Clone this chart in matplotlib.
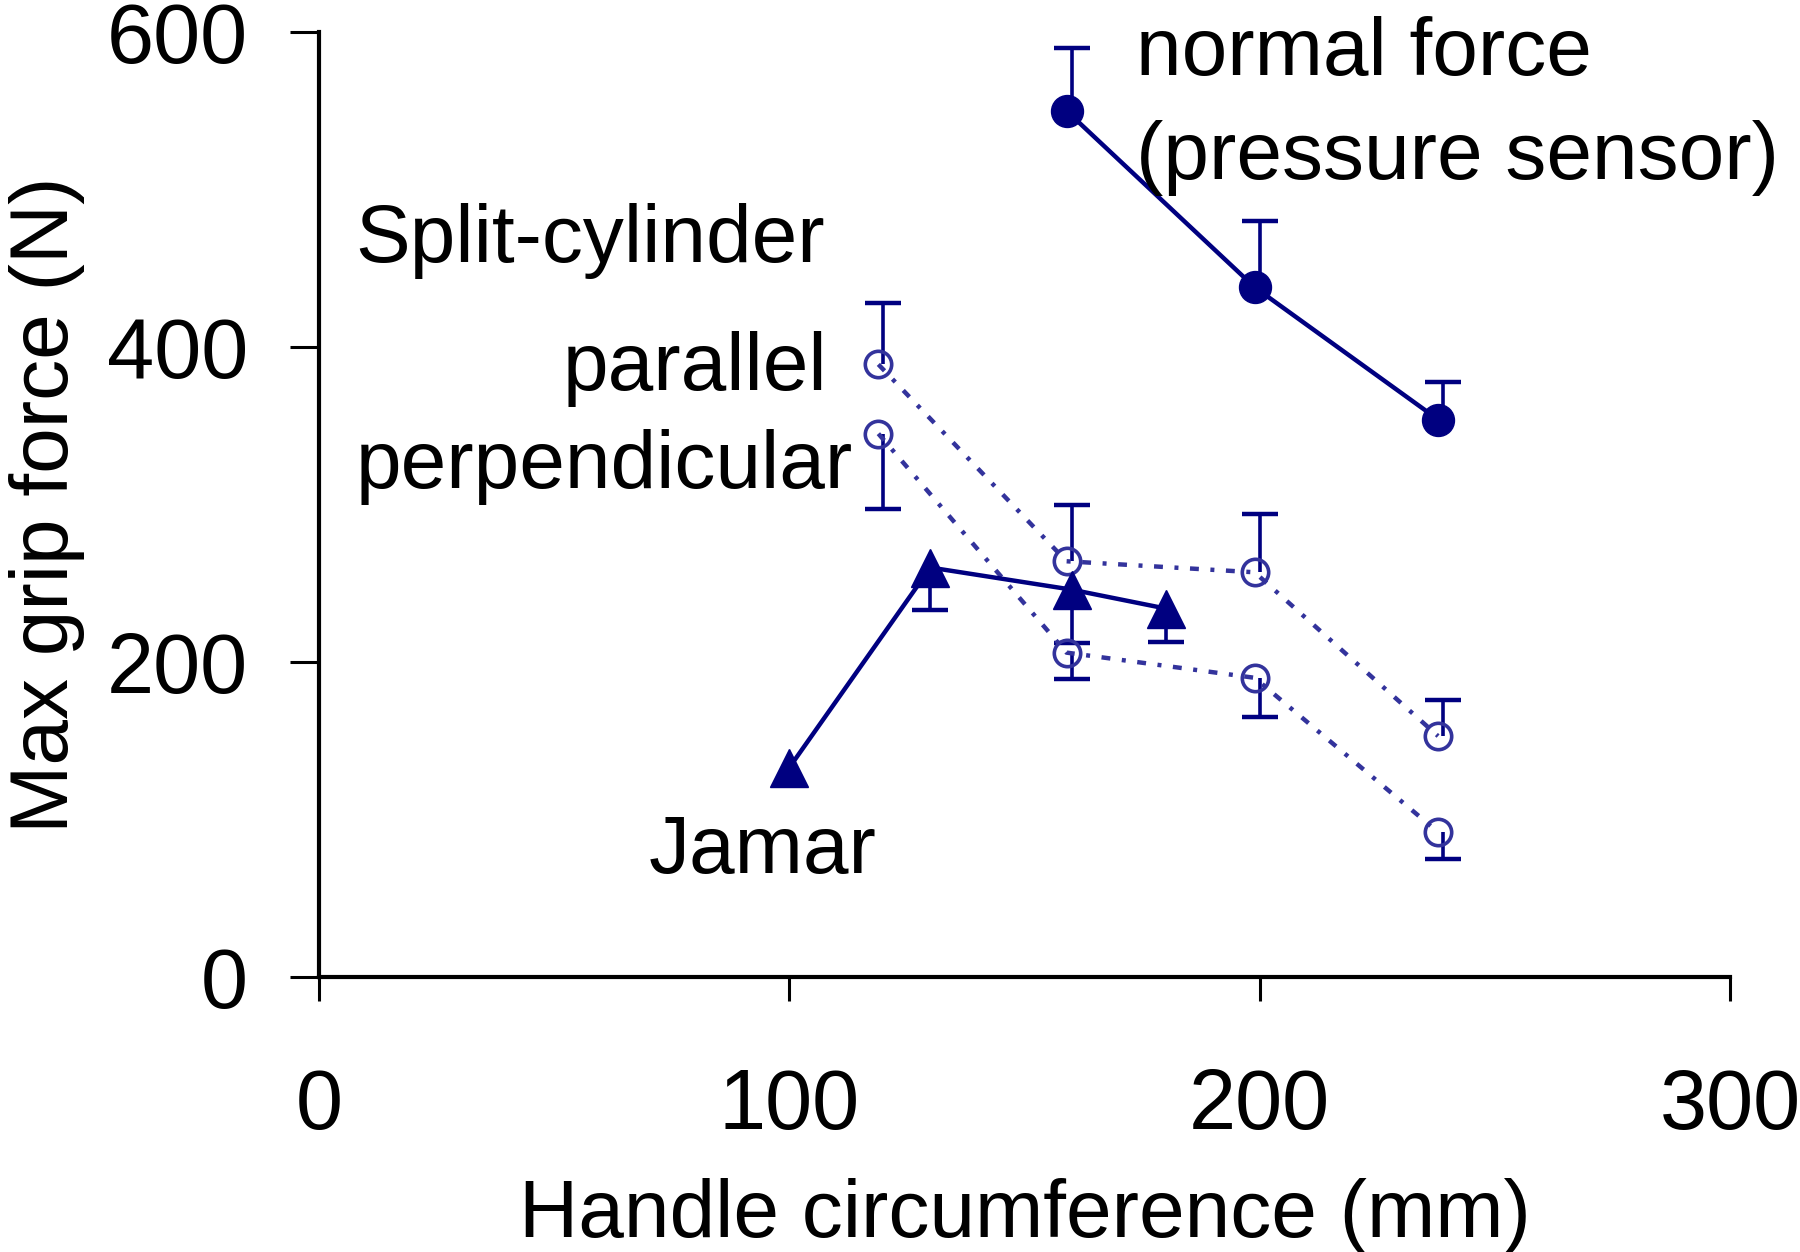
import matplotlib
matplotlib.use("Agg")
import matplotlib.pyplot as plt
from matplotlib.transforms import ScaledTranslation
import numpy as np

plt.rcParams['font.family'] = ['Liberation Sans', 'DejaVu Sans']

# Data
normal_x = [160, 200, 239]
normal_y = [550, 438, 354]
normal_err_up = [40, 42, 24]

parallel_x = [120, 160, 200, 239]
parallel_y = [389, 264, 257, 153]
parallel_err_up = [39, 36, 37, 23]

perp_x = [120, 160, 200, 239]
perp_y = [345, 206, 190, 92]
perp_err_down = [48, 17, 25, 17]

jamar_x = [100, 130, 160, 180]
jamar_y = [133, 260, 246, 234]
jamar_err_down = [0, 27, 34, 21]

xticks = [0, 100, 200, 300]
yticks = [0, 200, 400, 600]

navy = '#000080'
light = '#33339c'
FS = 59

fig = plt.figure(figsize=(18, 12.52), dpi=100)
ax = fig.add_axes([0.1772, 0.2196, 0.7839, 0.7548])

dashdot = (0, (2.0, 2.6, 0.9, 2.6))
shifted = ax.transData + ScaledTranslation(-5 / 100, 0, fig.dpi_scale_trans)


def one_sided(x, y, err, direction):
    x = np.asarray(x, float)
    y = np.asarray(y, float)
    err = np.asarray(err, float)
    m = err > 0
    end = y + direction * err
    ax.vlines(x[m], y[m], end[m], colors=navy, lw=2.6, zorder=2)
    ax.plot(x[m], end[m], linestyle='none', marker='_', ms=26, mew=3.2,
            color=navy, zorder=2)


one_sided(normal_x, normal_y, normal_err_up, 1)
one_sided(parallel_x, parallel_y, parallel_err_up, 1)
one_sided(perp_x, perp_y, perp_err_down, -1)
one_sided(jamar_x, jamar_y, jamar_err_down, -1)

# lines
ax.plot(normal_x, normal_y, '-', color=navy, lw=3.2, marker='o', ms=23,
        mfc=navy, mec=navy, zorder=3, transform=shifted)
ax.plot(parallel_x, parallel_y, linestyle=dashdot, color=light, lw=3.2, marker='o',
        ms=19, mfc='none', mec=light, mew=2.6, zorder=3, transform=shifted)
ax.plot(perp_x, perp_y, linestyle=dashdot, color=light, lw=3.2, marker='o',
        ms=19, mfc='none', mec=light, mew=2.6, zorder=3, transform=shifted)
ax.plot(jamar_x, jamar_y, '-', color=navy, lw=3.2, marker='^', ms=27,
        mfc=navy, mec=navy, zorder=3)

# labels
ax.text(173.8, 573, 'normal force', fontsize=FS, va='baseline', ha='left')
ax.text(173.8, 507, '(pressure sensor)', fontsize=FS, va='baseline', ha='left')
ax.text(7.8, 454, 'Split-cylinder', fontsize=FS, va='baseline', ha='left')
ax.text(108, 372.5, 'parallel', fontsize=FS, va='baseline', ha='right')
ax.text(7.8, 310.5, 'perpendicular', fontsize=FS, va='baseline', ha='left')
ax.text(70, 66, 'Jamar', fontsize=FS, va='baseline', ha='left')

ax.set_xlim(0, 300)
ax.set_ylim(0, 600)
ax.set_xticks(xticks)
ax.set_yticks(yticks)
ax.set_xticklabels([str(v) for v in xticks], fontsize=61)
ax.set_yticklabels([str(v) for v in yticks], fontsize=61)
ax.tick_params(axis='x', direction='out', length=17, width=2.2, pad=48)
ax.tick_params(axis='y', direction='out', length=21, width=2.2, pad=30)

for s in ['top', 'right']:
    ax.spines[s].set_visible(False)
for s in ['left', 'bottom']:
    ax.spines[s].set_linewidth(3)

ax.set_xlabel('Handle circumference (mm)', fontsize=FS, labelpad=22)
ax.set_ylabel('Max grip force (N)', fontsize=FS, labelpad=16)

fig.savefig('out.png', dpi=100)
